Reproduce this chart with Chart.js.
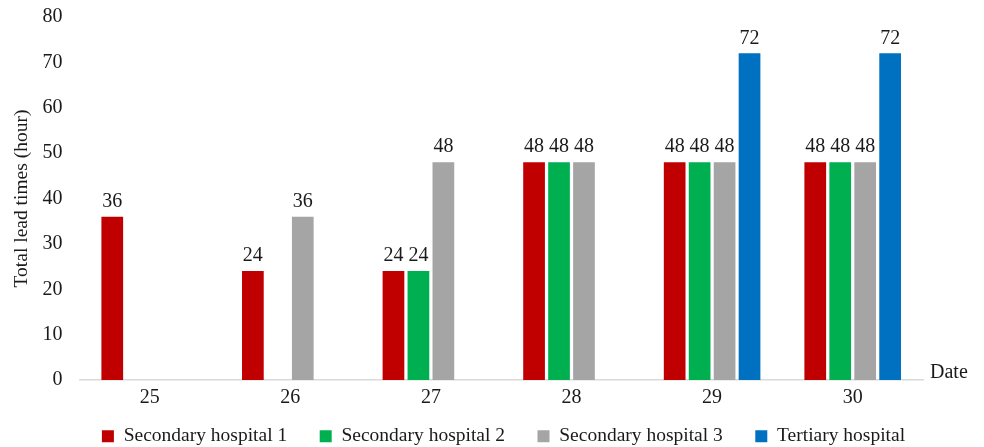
<!DOCTYPE html>
<html>
<head>
<meta charset="utf-8">
<script src="https://cdn.jsdelivr.net/npm/chart.js@4/dist/chart.umd.min.js"></script>
<style>
  html, body { margin: 0; padding: 0; background: #fff; }
  #wrap { width: 984px; height: 447px; position: relative; }
</style>
</head>
<body>
<div id="wrap"><canvas id="c"></canvas></div>
<script>
const dates = ['25', '26', '27', '28', '29', '30'];
const secondary1 = [36, 24, 24, 48, 48, 48];
const secondary2 = [null, null, 24, 48, 48, 48];
const secondary3 = [null, 36, 48, 48, 48, 48];
const tertiary = [null, null, null, null, 72, 72];
const seriesNames = ['Secondary hospital 1', 'Secondary hospital 2', 'Secondary hospital 3', 'Tertiary hospital'];
const seriesColors = ['#C00000', '#00B050', '#A5A5A5', '#0070C0'];
const yTicks = [0, 10, 20, 30, 40, 50, 60, 70, 80];

const FONT = '"Liberation Serif", "Times New Roman", serif';
const TEXT = '#1a1a1a';

// value labels above each bar
const valueLabels = {
  id: 'valueLabels',
  afterDatasetsDraw(chart) {
    const ctx = chart.ctx;
    ctx.save();
    ctx.font = '20px ' + FONT;
    ctx.fillStyle = TEXT;
    ctx.textAlign = 'center';
    ctx.textBaseline = 'middle';
    chart.data.datasets.forEach((ds, i) => {
      const meta = chart.getDatasetMeta(i);
      meta.data.forEach((bar, j) => {
        const v = ds.data[j];
        if (v === null || v === undefined) return;
        ctx.fillText(String(v), bar.x, bar.y - 15);
      });
    });
    ctx.restore();
  }
};

// x-axis name at the right end of the axis line
const axisName = {
  id: 'axisName',
  afterDraw(chart) {
    const ctx = chart.ctx;
    const a = chart.chartArea;
    ctx.save();
    ctx.font = '20px ' + FONT;
    ctx.fillStyle = TEXT;
    ctx.textAlign = 'left';
    ctx.textBaseline = 'middle';
    ctx.fillText('Date', a.right + 7, a.bottom - 7);
    ctx.restore();
  }
};

// pull the legend row up closer to the axis labels and centre it under the plot
const legendPlacement = {
  id: 'legendPlacement',
  afterLayout(chart) {
    const lg = chart.legend;
    if (!lg) return;
    const dy = -22, dx = 42;
    lg.top += dy; lg.bottom += dy;
    lg.left += dx; lg.right += dx;
  }
};

const datasets = [secondary1, secondary2, secondary3, tertiary].map((d, i) => ({
  label: seriesNames[i],
  data: d,
  backgroundColor: seriesColors[i],
  borderWidth: 0,
  categoryPercentage: 0.71,
  barPercentage: 0.87
}));

new Chart(document.getElementById('c'), {
  type: 'bar',
  data: { labels: dates, datasets },
  options: {
    responsive: true,
    maintainAspectRatio: false,
    animation: false,
    layout: { padding: { top: 1, right: 61, bottom: -31, left: 0 } },
    plugins: {
      legend: {
        position: 'bottom',
        labels: {
          font: { family: FONT, size: 19.5 },
          color: TEXT,
          boxWidth: 12,
          boxHeight: 12,
          padding: 32.5
        }
      },
      tooltip: { enabled: false }
    },
    scales: {
      x: {
        grid: { display: false, drawTicks: false },
        border: { display: true, color: '#D9D9D9', width: 1.5 },
        ticks: { font: { family: FONT, size: 20 }, color: TEXT, padding: 6 }
      },
      y: {
        min: 0,
        max: 80,
        afterBuildTicks(scale) { scale.ticks = yTicks.map(v => ({ value: v })); },
        grid: { display: false, drawTicks: true, tickLength: 12 },
        border: { display: false },
        ticks: { font: { family: FONT, size: 20 }, color: TEXT, padding: 5 },
        title: {
          display: true,
          text: 'Total lead times (hour)',
          font: { family: FONT, size: 19.5 },
          color: TEXT,
          padding: { top: 10, bottom: 4 }
        }
      }
    }
  },
  plugins: [valueLabels, axisName, legendPlacement]
});
</script>
</body>
</html>
